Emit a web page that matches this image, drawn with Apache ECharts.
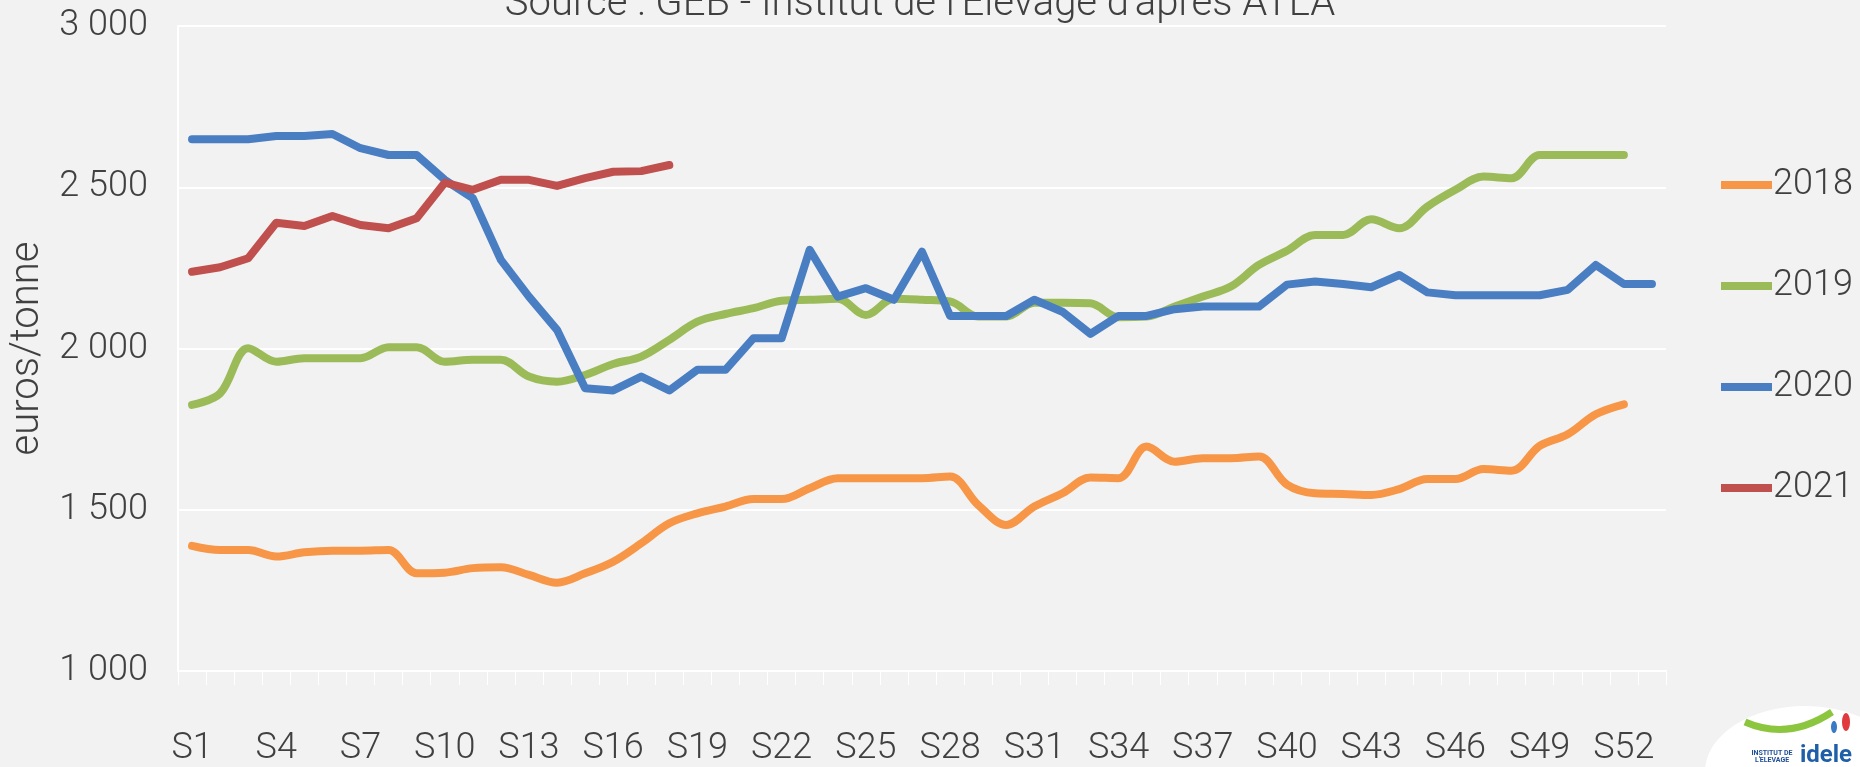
<!DOCTYPE html>
<html>
<head>
<meta charset="utf-8">
<script src="https://cdn.jsdelivr.net/npm/echarts@6/dist/echarts.min.js"></script>
<style>
  html, body { margin: 0; padding: 0; background: #f2f2f2; }
  #chart { width: 1860px; height: 767px; }
</style>
</head>
<body>
<div id="chart"></div>
<script>
// semaines S1..S53
const weeks = [];
for (let i = 1; i <= 53; i++) weeks.push('S' + i);

const yTicks = [1000, 1500, 2000, 2500, 3000];

// prix en euros/tonne
const s2018 = [1388, 1375, 1375, 1355, 1368, 1373, 1373, 1375, 1303, 1305,
               1319, 1322, 1298, 1274, 1303, 1339, 1396, 1458, 1489, 1510,
               1533, 1533, 1567, 1598, 1598, 1598, 1598, 1603, 1515, 1453,
               1510, 1551, 1600, 1598, 1696, 1649, 1660, 1660, 1665, 1578,
               1551, 1549, 1546, 1564, 1595, 1595, 1626, 1621, 1698, 1734,
               1796, 1827, null];
const s2019 = [1825, 1861, 2001, 1959, 1970, 1970, 1970, 2004, 2004, 1959,
               1965, 1965, 1913, 1897, 1918, 1952, 1975, 2027, 2083, 2107,
               2125, 2148, 2151, 2154, 2104, 2154, 2151, 2146, 2099, 2099,
               2142, 2142, 2140, 2097, 2099, 2130, 2161, 2192, 2259, 2303,
               2352, 2352, 2401, 2373, 2440, 2492, 2533, 2528, 2600, 2600,
               2600, 2600, null];
const s2020 = [2649, 2649, 2649, 2659, 2659, 2665, 2621, 2600, 2600, 2523,
               2466, 2275, 2161, 2058, 1877, 1870, 1913, 1870, 1934, 1934,
               2032, 2032, 2306, 2161, 2187, 2151, 2300, 2101, 2101, 2101,
               2151, 2114, 2045, 2101, 2101, 2122, 2130, 2130, 2130, 2198,
               2208, 2200, 2190, 2228, 2174, 2165, 2165, 2165, 2165, 2182,
               2259, 2200, 2200];
const s2021 = [2238, 2252, 2280, 2390, 2380, 2411, 2383, 2373, 2404, 2514,
               2492, 2523, 2523, 2504, 2528, 2548, 2550, 2569];

const font = 'Roboto';
const textColor = '#404040';

const chart = echarts.init(document.getElementById('chart'));

function fmt(v) {
    // séparateur de milliers = espace
    return String(v).replace(/\B(?=(\d{3})+(?!\d))/g, ' ');
}

function line(name, data, color, smooth) {
    return {
        name: name,
        type: 'line',
        data: data,
        smooth: smooth,
        showSymbol: false,
        symbol: 'none',
        connectNulls: false,
        lineStyle: { color: color, width: 8, cap: 'round', join: 'round' },
        itemStyle: { color: color }
    };
}

chart.setOption({
    backgroundColor: '#f2f2f2',
    animation: false,
    textStyle: { fontFamily: font },
    grid: { left: 178, right: 194, top: 26, bottom: 95 },
    legend: {
        orient: 'vertical',
        left: 1716,
        top: 162,
        itemWidth: 51,
        itemHeight: 8,
        itemGap: 65,
        icon: 'rect',
        textStyle: { fontSize: 36, color: textColor, fontFamily: font, fontWeight: 300, padding: [0, 0, 0, -4] },
        data: ['2018', '2019', '2020', '2021']
    },
    graphic: [
        {
            type: 'text',
            x: 920,
            y: 25,
            style: {
                text: "Source : GEB - Institut de l'Elevage d'après ATLA",
                fill: textColor,
                font: '300 40px Roboto',
                align: 'center',
                verticalAlign: 'bottom'
            }
        },
        {
            type: 'group',
            children: [
                { type: 'ellipse', shape: { cx: 1805, cy: 772, rx: 100, ry: 66 }, style: { fill: '#ffffff' } },
                { type: 'bezierCurve', shape: { x1: 1745, y1: 722, cpx1: 1775, cpy1: 735, cpx2: 1805, cpy2: 730, x2: 1832, y2: 712 },
                  style: { stroke: '#8cc63f', lineWidth: 7, fill: null } },
                { type: 'ellipse', shape: { cx: 1834, cy: 727, rx: 3, ry: 6 }, style: { fill: '#3a7cc4' } },
                { type: 'ellipse', shape: { cx: 1846, cy: 722, rx: 4, ry: 9 }, style: { fill: '#e03a3e' } },
                { type: 'text', x: 1772, y: 757, style: { text: "INSTITUT DE\nL'ELEVAGE", fill: '#1f4e96', font: 'bold 7px Roboto', align: 'center', verticalAlign: 'middle' } },
                { type: 'text', x: 1826, y: 768, style: { text: 'idele', fill: '#1f5fa8', font: 'bold 24px Roboto', align: 'center', verticalAlign: 'bottom' } }
            ]
        }
    ],
    xAxis: {
        type: 'category',
        data: weeks,
        boundaryGap: true,
        axisLine: { show: true, lineStyle: { color: '#ffffff', width: 2 } },
        axisTick: { show: true, interval: 0, length: 14, lineStyle: { color: '#ffffff', width: 1 } },
        axisLabel: {
            interval: 2,
            margin: 60,
            fontSize: 36,
            fontWeight: 300,
            color: textColor,
            fontFamily: font
        },
        splitLine: { show: false }
    },
    yAxis: {
        type: 'value',
        min: yTicks[0],
        max: yTicks[yTicks.length - 1],
        interval: 500,
        name: 'euros/tonne',
        nameLocation: 'middle',
        nameGap: 126,
        nameTextStyle: { fontSize: 40, fontWeight: 300, color: textColor, fontFamily: font },
        axisLine: { show: true, lineStyle: { color: '#ffffff', width: 2 } },
        axisTick: { show: false },
        axisLabel: {
            margin: 30,
            fontSize: 36,
            fontWeight: 300,
            color: textColor,
            fontFamily: font,
            formatter: fmt
        },
        splitLine: { show: true, lineStyle: { color: '#ffffff', width: 2 } }
    },
    series: [
        line('2018', s2018, '#f79646', 0.35),
        line('2019', s2019, '#9bbb59', 0.35),
        line('2020', s2020, '#4a7ec2', false),
        line('2021', s2021, '#c0504d', false)
    ]
});
</script>
</body>
</html>
